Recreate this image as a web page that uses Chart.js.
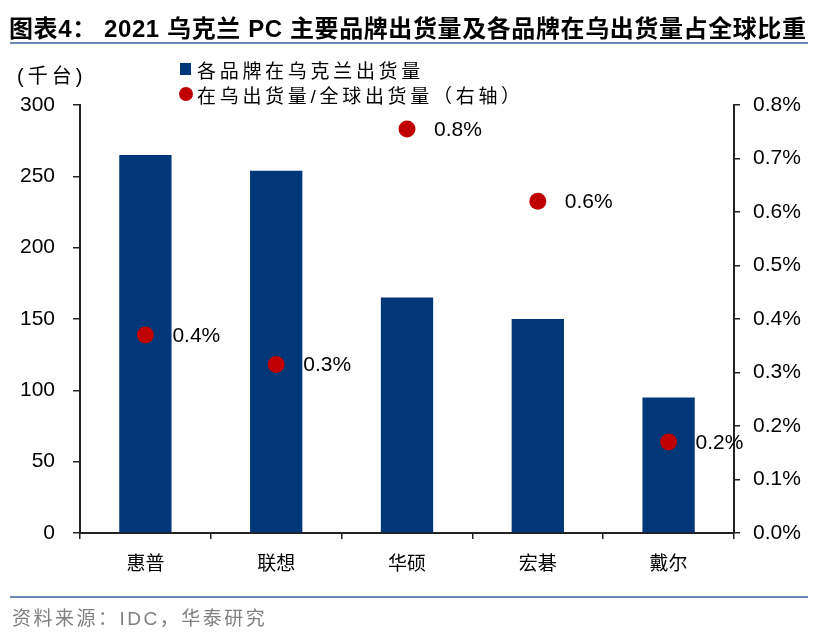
<!DOCTYPE html>
<html>
<head>
<meta charset="utf-8">
<script src="https://cdn.jsdelivr.net/npm/chart.js@4.4.1/dist/chart.umd.min.js"></script>
<style>
  body { margin: 0; background: #fff; }
  #wrap { position: relative; width: 828px; height: 632px; overflow: hidden; font-family: "Liberation Sans", "Noto Sans CJK SC", sans-serif; }
  #chart { position: absolute; left: 0; top: 0; }
  .title { position: absolute; left: 9px; top: 9px; font-size: 24px; font-weight: bold; color: #000; white-space: nowrap; letter-spacing: 0.6px; }
  .rule { position: absolute; left: 10px; width: 798px; height: 2px; background: #6a89b3; }
  .unit { position: absolute; left: 17px; top: 60px; font-size: 20px; color: #000; letter-spacing: 4px; }
  .leg { position: absolute; left: 197px; font-size: 19px; color: #000; white-space: nowrap; letter-spacing: 3.7px; }
  .sq { position: absolute; left: 180px; top: 63px; width: 11px; height: 12px; background: #003778; }
  .dot { position: absolute; left: 179px; top: 87px; width: 14px; height: 14px; border-radius: 50%; background: #c00000; }
  .src { position: absolute; left: 12px; top: 603px; font-size: 19px; color: #808080; white-space: nowrap; letter-spacing: 2.5px; }
</style>
</head>
<body>
<div id="wrap">
  <canvas id="chart" width="828" height="632"></canvas>
  <div class="title">图表4：&nbsp;2021 乌克兰 PC 主要品牌出货量及各品牌在乌出货量占全球比重</div>
  <div class="rule" style="top:42px"></div>
  <div class="unit">(千台)</div>
  <div class="sq"></div>
  <div class="leg" style="top:56px">各品牌在乌克兰出货量</div>
  <div class="dot"></div>
  <div class="leg" style="top:81px">在乌出货量/全球出货量（右轴）</div>
  <div class="rule" style="top:596px"></div>
  <div class="src">资料来源：IDC，华泰研究</div>
</div>
<script>
// Data
const brands = ['惠普', '联想', '华硕', '宏碁', '戴尔'];
const shipments = [265, 254, 165, 150, 95];           // 千台
const globalShare = [0.37, 0.315, 0.755, 0.62, 0.17];  // %
const leftTicks = [0, 50, 100, 150, 200, 250, 300];
const rightTicks = [0, 0.1, 0.2, 0.3, 0.4, 0.5, 0.6, 0.7, 0.8];

// Labels to the right of each red dot
const pointLabels = {
    id: 'pointLabels',
    afterDatasetsDraw(chart) {
        const ctx = chart.ctx;
        const meta = chart.getDatasetMeta(1);
        ctx.save();
        ctx.font = '21px "Liberation Sans", Arial, sans-serif';
        ctx.fillStyle = '#000';
        ctx.textAlign = 'left';
        ctx.textBaseline = 'middle';
        meta.data.forEach((pt, i) => {
            ctx.fillText(globalShare[i].toFixed(1) + '%', pt.x + 27, pt.y + 1);
        });
        ctx.restore();
    }
};

const tickFont = { family: '"Liberation Sans", Arial, sans-serif', size: 21 };

new Chart(document.getElementById('chart'), {
    type: 'bar',
    data: {
        labels: brands,
        datasets: [{
            label: '各品牌在乌克兰出货量',
            data: shipments,
            backgroundColor: '#003778',
            borderWidth: 0,
            categoryPercentage: 1,
            barPercentage: 0.4,
            yAxisID: 'y',
            order: 2
        }, {
            label: '在乌出货量/全球出货量（右轴）',
            type: 'line',
            data: globalShare,
            showLine: false,
            pointRadius: 8.5,
            pointHoverRadius: 8.5,
            pointBackgroundColor: '#c00000',
            pointBorderWidth: 0,
            yAxisID: 'y1',
            order: 1
        }]
    },
    options: {
        responsive: false,
        animation: false,
        events: [],
        layout: { padding: { top: 105, left: 0, right: 0, bottom: 0 } },
        plugins: {
            legend: { display: false },
            tooltip: { enabled: false }
        },
        scales: {
            x: {
                offset: true,
                grid: { offset: true, drawOnChartArea: false, tickLength: 6, color: '#222', lineWidth: 1.5 },
                border: { color: '#222', width: 2 },
                ticks: { color: '#000', padding: 12, font: { family: '"Noto Sans CJK SC", sans-serif', size: 19 } },
                afterFit: s => { s.height = 99; }
            },
            y: {
                position: 'left',
                min: 0, max: 300,
                afterBuildTicks: s => { s.ticks = leftTicks.map(v => ({ value: v })); },
                grid: { drawOnChartArea: false, tickLength: 7, color: '#222', lineWidth: 1.5 },
                border: { color: '#222', width: 2 },
                ticks: { color: '#000', padding: 18, font: tickFont },
                afterFit: s => { s.width = 80; }
            },
            y1: {
                position: 'right',
                min: 0, max: 0.8,
                afterBuildTicks: s => { s.ticks = rightTicks.map(v => ({ value: v })); },
                grid: { drawOnChartArea: false, tickLength: 6, color: '#222', lineWidth: 1.5 },
                border: { color: '#222', width: 2 },
                ticks: { color: '#000', padding: 13, font: tickFont, callback: v => v.toFixed(1) + '%' },
                afterFit: s => { s.width = 94; }
            }
        }
    },
    plugins: [pointLabels]
});
</script>
</body>
</html>
